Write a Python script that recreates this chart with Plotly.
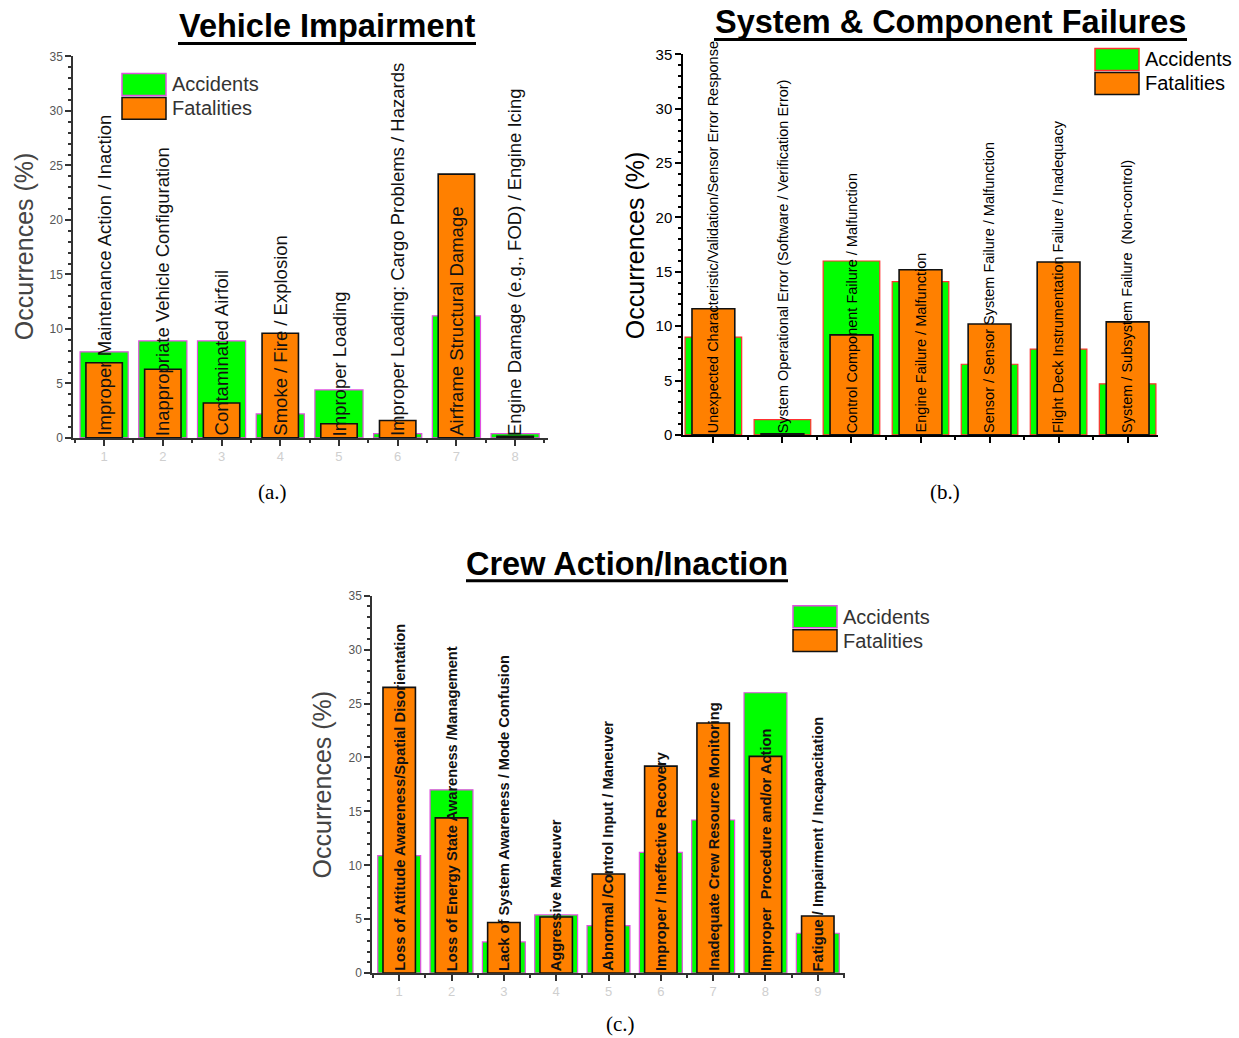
import plotly.graph_objects as go

W, H = 1239, 1038

# ---------------- Data ----------------
# (a) Vehicle Impairment
a_labels = ["Improper Maintenance Action / Inaction",
            "Inappropriate Vehicle Configuration",
            "Contaminated Airfoil",
            "Smoke / Fire / Explosion",
            "Improper Loading",
            "Improper Loading: Cargo Problems / Hazards",
            "Airframe Structural Damage",
            "Engine Damage (e.g., FOD) / Engine Icing"]
a_ticks = ["1", "2", "3", "4", "5", "6", "7", "8"]
a_accidents = [7.9, 8.9, 8.9, 2.2, 4.4, 0.4, 11.2, 0.4]
a_fatalities = [6.9, 6.3, 3.2, 9.6, 1.3, 1.6, 24.2, 0.15]

# (b) System & Component Failures
b_labels = ["Unexpected Characteristic/Validation/Sensor Error Response",
            "System Operational Error (Software / Verification Error)",
            "Control Component Failure / Malfunction",
            "Engine Failure / Malfunction",
            "Sensor / Sensor System Failure / Malfunction",
            "Flight Deck Instrumentation Failure / Inadequacy",
            "System / Subsystem Failure  (Non-control)"]
b_accidents = [9.0, 1.4, 16.0, 14.1, 6.5, 7.9, 4.7]
b_fatalities = [11.6, 0.1, 9.2, 15.2, 10.2, 15.9, 10.4]

# (c) Crew Action/Inaction
c_labels = ["Loss of Attitude Awareness/Spatial Disorientation",
            "Loss of Energy State Awareness /Management",
            "Lack of System Awareness / Mode Confusion",
            "Aggressive Maneuver",
            "Abnormal /Control Input / Maneuver",
            "Improper / Ineffective Recovery",
            "Inadequate Crew Resource Monitoring",
            "Improper  Procedure and/or Action",
            "Fatigue / Impairment / Incapacitation"]
c_ticks = ["1", "2", "3", "4", "5", "6", "7", "8", "9"]
c_accidents = [10.9, 17.0, 2.9, 5.4, 4.4, 11.2, 14.2, 26.0, 3.7]
c_fatalities = [26.5, 14.4, 4.7, 5.2, 9.2, 19.2, 23.2, 20.1, 5.3]

titles = ["Vehicle Impairment", "System & Component Failures", "Crew Action/Inaction"]
captions = ["(a.)", "(b.)", "(c.)"]
series_names = ["Accidents", "Fatalities"]
y_title = "Occurrences (%)"

# ---------------- Styling ----------------
GREEN = "#00FF00"
ORANGE = "#FF8000"
MAGENTA = "#E050E0"
RED = "#FF3030"


def px(x):
    return x / W


def py(y):
    # pixel row (from top) -> paper fraction, with a small correction for the capture
    yy = (y - 7.5) / 0.985
    return 1 - yy / H


fig = go.Figure()

panels = [
    dict(ax="x", ay="y", xa="xaxis", ya="yaxis", labels=a_labels, acc=a_accidents, fat=a_fatalities,
         ticks=a_ticks, edge=MAGENTA, dom_x=(73, 548), dom_y=(437, 55), label_font=dict(size=18.5, color="#111"),
         tickcol="#555", tickfs=12, axcol="#333", xr=(0.47, 8.56), bold=False),
    dict(ax="x2", ay="y2", xa="xaxis2", ya="yaxis2", labels=b_labels, acc=b_accidents, fat=b_fatalities,
         ticks=None, edge=RED, dom_x=(683, 1158), dom_y=(434, 53), label_font=dict(size=14.5, color="#000"),
         tickcol="#000", tickfs=15, axcol="#000", xr=(0.56, 7.44), bold=False),
    dict(ax="x3", ay="y3", xa="xaxis3", ya="yaxis3", labels=c_labels, acc=c_accidents, fat=c_fatalities,
         ticks=c_ticks, edge=MAGENTA, dom_x=(372, 845), dom_y=(973, 595), label_font=dict(size=14.7, color="#111"),
         tickcol="#555", tickfs=12, axcol="#333", xr=(0.48, 9.52), bold=True),
]

annotations = []
for p in panels:
    n = len(p["acc"])
    xs = list(range(1, n + 1))
    fig.add_trace(go.Bar(x=xs, y=p["acc"], xaxis=p["ax"], yaxis=p["ay"], width=0.82,
                         marker=dict(color=GREEN, line=dict(color=p["edge"], width=1.2)),
                         name=series_names[0], showlegend=False))
    fig.add_trace(go.Bar(x=xs, y=p["fat"], xaxis=p["ax"], yaxis=p["ay"], width=0.62,
                         marker=dict(color=ORANGE, line=dict(color="#111", width=1.6)),
                         name=series_names[1], showlegend=False))
    xaxis = dict(domain=[px(p["dom_x"][0]), px(p["dom_x"][1])], range=list(p["xr"]),
                 anchor=p["ay"], showgrid=False, zeroline=False, showline=True,
                 linecolor=p["axcol"], linewidth=1.5, ticks="outside", ticklen=6,
                 tickcolor=p["axcol"], tickwidth=1.5,
                 minor=dict(ticks="outside", ticklen=3, tickcolor=p["axcol"], dtick=1, tick0=0.5))
    if p["ticks"] is not None:
        xaxis.update(tickmode="array", tickvals=xs, ticktext=p["ticks"],
                     tickfont=dict(size=13, color="#cfcfcf", family="Arial"))
    else:
        xaxis.update(tickmode="array", tickvals=xs, showticklabels=False)
    yaxis = dict(domain=[py(p["dom_y"][0]), py(p["dom_y"][1])], range=[0, 35], anchor=p["ax"],
                 showgrid=False, zeroline=False, showline=True, linecolor=p["axcol"], linewidth=1.5,
                 ticks="outside", ticklen=6, tickcolor=p["axcol"], tickwidth=1.5, dtick=5,
                 tickfont=dict(size=p["tickfs"], color=p["tickcol"], family="Arial"),
                 minor=dict(ticks="outside", ticklen=3, tickcolor=p["axcol"], dtick=1))
    fig.update_layout(**{p["xa"]: xaxis, p["ya"]: yaxis})
    for i, lab in enumerate(p["labels"]):
        txt = "<b>" + lab + "</b>" if p["bold"] else lab
        annotations.append(dict(x=xs[i], y=0, xref=p["ax"], yref=p["ay"], text=txt, textangle=-90,
                                showarrow=False, xanchor="center", yanchor="bottom",
                                font=dict(family="Arial", **p["label_font"])))

# Titles (underlined)
title_specs = [
    (titles[0], 327, 25, 32.5, 178, 476, 42),
    (titles[1], 950, 21, 32.5, 714, 1187, 38),
    (titles[2], 627, 563, 32.5, 466, 788, 580),
]
shapes = []
for t, cx, cy, fs, x0, x1, uy in title_specs:
    annotations.append(dict(x=px(cx), y=py(cy), xref="paper", yref="paper", text="<b>" + t + "</b>",
                            showarrow=False, xanchor="center", yanchor="middle",
                            font=dict(family="Arial", size=fs, color="#000")))
    shapes.append(dict(type="line", xref="paper", yref="paper", x0=px(x0), x1=px(x1), y0=py(uy), y1=py(uy),
                       line=dict(color="#000", width=3)))

# Y-axis titles
for cx, cy, col in [(24, 245, "#444"), (635, 244, "#000"), (322, 784, "#444")]:
    annotations.append(dict(x=px(cx), y=py(cy), xref="paper", yref="paper", text=y_title, textangle=-90,
                            showarrow=False, xanchor="center", yanchor="middle",
                            font=dict(family="Arial", size=25, color=col)))

# Custom legends
for lx, ly, edge, col in [(122, 72, MAGENTA, "#333"), (1095, 47, RED, "#000"), (793, 605, MAGENTA, "#333")]:
    shapes.append(dict(type="rect", xref="paper", yref="paper", x0=px(lx), x1=px(lx + 44),
                       y0=py(ly + 22), y1=py(ly), fillcolor=GREEN, line=dict(color=edge, width=1.5)))
    shapes.append(dict(type="rect", xref="paper", yref="paper", x0=px(lx), x1=px(lx + 44),
                       y0=py(ly + 46), y1=py(ly + 24), fillcolor=ORANGE, line=dict(color="#111", width=1.5)))
    annotations.append(dict(x=px(lx + 48), y=py(ly + 11), xref="paper", yref="paper", text=series_names[0],
                            showarrow=False, xanchor="left", yanchor="middle",
                            font=dict(family="Arial", size=20, color=col)))
    annotations.append(dict(x=px(lx + 48), y=py(ly + 35), xref="paper", yref="paper", text=series_names[1],
                            showarrow=False, xanchor="left", yanchor="middle",
                            font=dict(family="Arial", size=20, color=col)))

# Captions
for t, cx, cy in [(captions[0], 272, 491), (captions[1], 945, 491), (captions[2], 620, 1024)]:
    annotations.append(dict(x=px(cx), y=py(cy), xref="paper", yref="paper", text=t, showarrow=False,
                            xanchor="center", yanchor="middle",
                            font=dict(family="Liberation Serif", size=21, color="#000")))

fig.update_layout(width=W, height=H, margin=dict(l=0, r=0, t=0, b=0), barmode="overlay",
                  plot_bgcolor="white", paper_bgcolor="white", showlegend=False,
                  annotations=annotations, shapes=shapes, font=dict(family="Arial"))

fig.write_html("out.html", config={"displayModeBar": False},
               post_script="document.body.style.margin='0';document.body.style.overflow='hidden';")
